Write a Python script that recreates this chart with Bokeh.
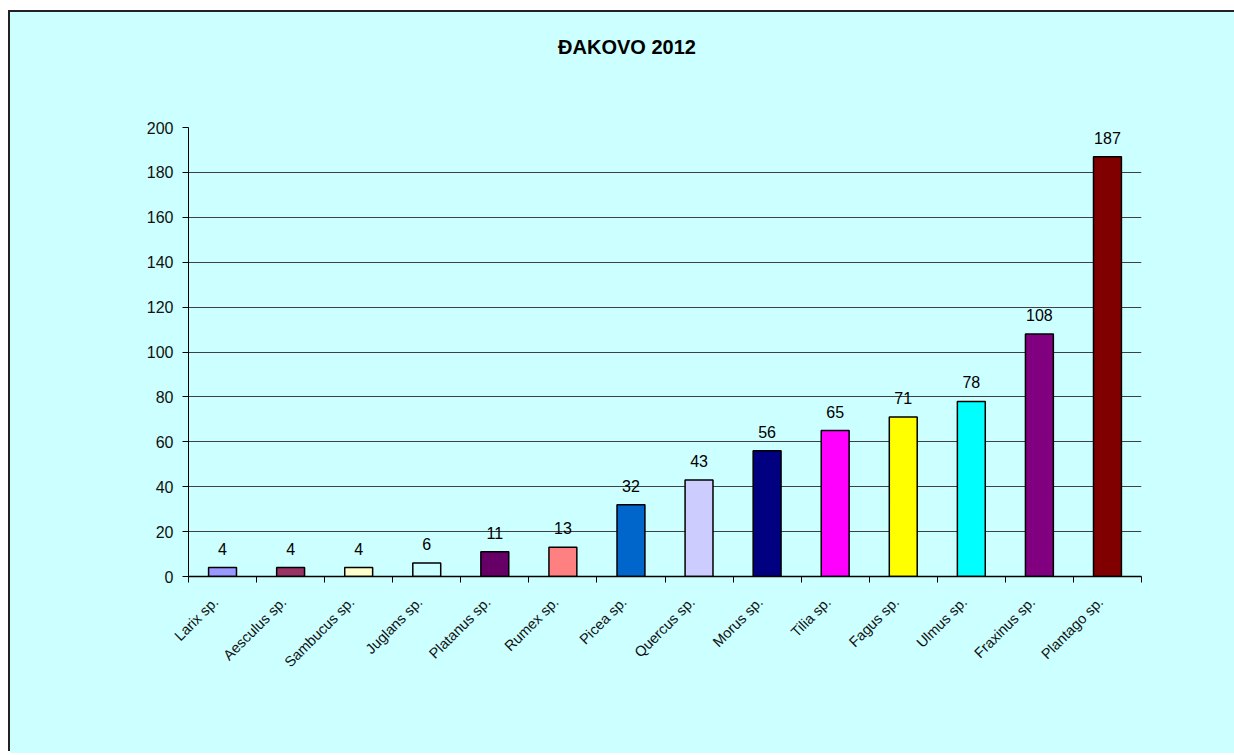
import math
from bokeh.plotting import figure
from bokeh.layouts import column
from bokeh.models import Range1d, FixedTicker, ColumnDataSource, Div
from bokeh.core.properties import value
from bokeh.embed import file_html
from bokeh.resources import INLINE

categories = ["Larix sp.", "Aesculus sp.", "Sambucus sp.", "Juglans sp.", "Platanus sp.",
              "Rumex sp.", "Picea sp.", "Quercus sp.", "Morus sp.", "Tilia sp.",
              "Fagus sp.", "Ulmus sp.", "Fraxinus sp.", "Plantago sp."]
counts = [4, 4, 4, 6, 11, 13, 32, 43, 56, 65, 71, 78, 108, 187]
colors = ["#9999FF", "#993366", "#FFFFCC", "#CCFFFF", "#660066", "#FF8080", "#0066CC",
          "#CCCCFF", "#000080", "#FF00FF", "#FFFF00", "#00FFFF", "#800080", "#800000"]
y_ticks = [0, 20, 40, 60, 80, 100, 120, 140, 160, 180, 200]
title_text = "ĐAKOVO 2012"

BG = "#CCFFFF"
FONT = "Liberation Sans"

n = len(categories)
xs = [i + 0.5 for i in range(n)]
label_pos = [i + 0.4 for i in range(n)]
src = ColumnDataSource(dict(x=xs, top=counts, color=colors,
                            label=[str(c) for c in counts]))

W = 1224
TITLE_H = 60
H = 671

title_div = Div(text=title_text, width=W, height=TITLE_H,
                styles={"background-color": BG, "line-height": f"{TITLE_H}px",
                        "text-align": "center", "font-weight": "bold",
                        "font-size": "20px", "font-family": FONT, "color": "black"})

p = figure(width=W, height=H, output_backend="svg", toolbar_location=None,
           x_range=Range1d(0, n), y_range=Range1d(0, 200),
           min_border_left=178, min_border_right=W - 1131, min_border_top=45,
           min_border_bottom=177, background_fill_color=BG, border_fill_color=BG,
           outline_line_color=None)

p.vbar(x="x", top="top", width=0.41, bottom=0, fill_color="color",
       line_color="black", line_width=1.5, source=src)
p.text(x="x", y="top", text="label", source=src, text_align="center",
       text_baseline="bottom", y_offset=-13, text_font=value(FONT),
       text_font_size="16px", text_color="black")

# x axis
xa = p.xaxis[0]
xa.ticker = FixedTicker(ticks=label_pos, minor_ticks=list(range(n + 1)))
xa.major_label_overrides = {x: c for x, c in zip(label_pos, categories)}
xa.major_label_orientation = math.pi / 4
xa.major_tick_line_color = None
xa.minor_tick_in = 0
xa.minor_tick_out = 6
xa.minor_tick_line_color = "black"
xa.axis_line_color = "black"
xa.axis_line_width = 1.5
xa.major_label_text_font = FONT
xa.major_label_text_font_size = "14.5px"
xa.major_label_text_color = "#111111"
xa.major_label_standoff = 17

# y axis
ya = p.yaxis[0]
ya.ticker = FixedTicker(ticks=y_ticks)
ya.major_tick_in = 0
ya.major_tick_out = 6
ya.minor_tick_line_color = None
ya.axis_line_color = "black"
ya.axis_line_width = 1
ya.major_tick_line_color = "black"
ya.major_label_text_font = FONT
ya.major_label_text_font_size = "16px"
ya.major_label_text_color = "#111111"
ya.major_label_standoff = 9

p.xgrid.grid_line_color = None
p.ygrid.ticker = FixedTicker(ticks=y_ticks)
p.ygrid.grid_line_color = "#404040"
p.ygrid.grid_line_width = 1

layout = column(title_div, p, spacing=0,
                styles={"box-shadow": "-2px -2px 0px 0px #222",
                        "margin-left": "10px", "margin-top": "12px",
                        "background-color": BG})

open("out.html", "w").write(file_html(layout, INLINE))
